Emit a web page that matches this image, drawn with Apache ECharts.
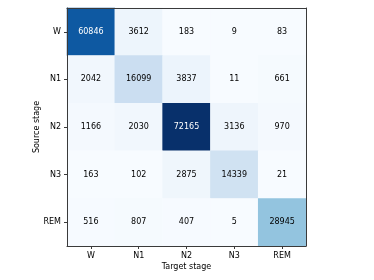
<!DOCTYPE html>
<html><head><meta charset="utf-8">
<script src="https://cdn.jsdelivr.net/npm/echarts@6/dist/echarts.min.js"></script>
<style>html,body{margin:0;padding:0;background:#fff}#c{width:374px;height:280px}</style>
</head><body><div id="c"></div>
<script>
const sourceStages = ['W','N1','N2','N3','REM'];
const targetStages = ['W','N1','N2','N3','REM'];
const rowW   = [60846, 3612, 183, 9, 83];
const rowN1  = [2042, 16099, 3837, 11, 661];
const rowN2  = [1166, 2030, 72165, 3136, 970];
const rowN3  = [163, 102, 2875, 14339, 21];
const rowREM = [516, 807, 407, 5, 28945];
const rows = [rowW, rowN1, rowN2, rowN3, rowREM];

let vmax = 0, vmin = Infinity;
rows.forEach(r => r.forEach(v => { vmax = Math.max(vmax, v); vmin = Math.min(vmin, v); }));
const thresh = vmax / 2;
const data = [];
rows.forEach((r, i) => r.forEach((v, j) => {
  data.push({ value: [j, i, v], label: { color: v > thresh ? '#ffffff' : '#000000' } });
}));

const font = 'DejaVu Sans';
const spine = { show: true, lineStyle: { color: '#3a3a3a', width: 1 } };
const chart = echarts.init(document.getElementById('c'), null, { renderer: 'canvas' });
chart.setOption({
  animation: false,
  grid: { left: 67, top: 8, width: 239, height: 238, show: false },
  xAxis: [{
    type: 'category', data: targetStages, position: 'bottom', z: 5,
    name: 'Target stage', nameLocation: 'middle', nameGap: 17, nameMoveOverlap: false,
    nameTextStyle: { fontFamily: font, fontSize: 8, color: '#000' },
    axisLine: spine, splitLine: { show: false },
    axisTick: { show: true, alignWithLabel: true, length: 3, lineStyle: { color: '#3a3a3a' } },
    axisLabel: { fontFamily: font, fontSize: 8, color: '#000', margin: 6 }
  }, {
    type: 'category', data: targetStages, position: 'top', z: 5,
    axisLine: spine, axisTick: { show: false }, axisLabel: { show: false }, splitLine: { show: false }
  }],
  yAxis: [{
    type: 'category', data: sourceStages, inverse: true, z: 5,
    name: 'Source stage', nameLocation: 'middle', nameGap: 26, nameRotate: 90, nameMoveOverlap: false,
    nameTextStyle: { fontFamily: font, fontSize: 8, color: '#000' },
    axisLine: spine, splitLine: { show: false },
    axisTick: { show: true, alignWithLabel: true, length: 3, lineStyle: { color: '#3a3a3a' } },
    axisLabel: { fontFamily: font, fontSize: 8, color: '#000', margin: 6 }
  }, {
    type: 'category', data: sourceStages, inverse: true, position: 'right', z: 5,
    axisLine: spine, axisTick: { show: false }, axisLabel: { show: false }, splitLine: { show: false }
  }],
  visualMap: {
    show: false, min: vmin, max: vmax, dimension: 2,
    inRange: { color: ['#f7fbff','#deebf7','#c6dbef','#9ecae1','#6baed6','#4292c6','#2171b5','#08519c','#08306b'] }
  },
  series: [{
    type: 'heatmap', data: data, xAxisIndex: 0, yAxisIndex: 0,
    label: { show: true, fontFamily: font, fontSize: 8, formatter: p => String(p.value[2]) },
    itemStyle: { borderWidth: 0 },
    emphasis: { disabled: true }
  }]
});
</script></body></html>
